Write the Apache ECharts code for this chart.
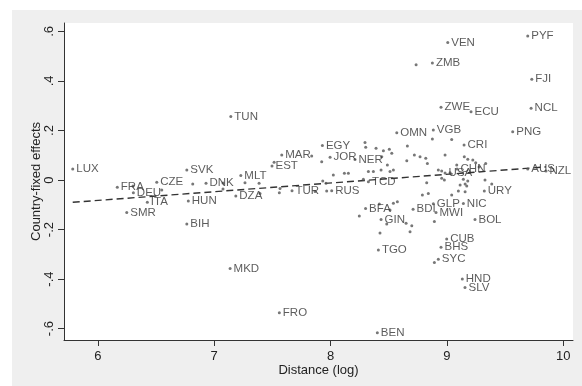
<!DOCTYPE html>
<html>
<head>
<meta charset="utf-8">
<script src="https://cdn.jsdelivr.net/npm/echarts@6/dist/echarts.min.js"></script>
<style>
  html, body { margin: 0; padding: 0; background: #fff; }
  #chart { position: absolute; left: 12px; top: 10px; width: 570px; height: 376px; background: #efefef; }
</style>
</head>
<body>
<div id="chart"></div>
<script>
// labelled countries
const names = ['LUX', 'FRA', 'DEU', 'CZE', 'ITA', 'SMR', 'SVK', 'DNK', 'HUN', 'BIH',
  'MLT', 'DZA', 'EST', 'MAR', 'TUR', 'TUN', 'MKD', 'FRO', 'EGY', 'JOR',
  'NER', 'RUS', 'TCD', 'OMN', 'VGB', 'CRI', 'VEN', 'ZMB', 'ZWE', 'ECU',
  'PYF', 'FJI', 'NCL', 'PNG', 'AUS', 'NZL', 'USA', 'CHN', 'URY', 'BFA',
  'GIN', 'TGO', 'BDI', 'GLP', 'MWI', 'NIC', 'BOL', 'CUB', 'BHS', 'SYC',
  'HND', 'SLV', 'BEN'];
const distance = [5.785, 6.168, 6.306, 6.507, 6.426, 6.249, 6.765, 6.930, 6.778, 6.765,
  7.229, 7.186, 7.497, 7.581, 7.669, 7.143, 7.137, 7.560, 7.930, 7.996,
  8.210, 8.010, 8.325, 8.569, 8.883, 9.147, 9.007, 8.875, 8.949, 9.207,
  9.694, 9.729, 9.723, 9.565, 9.694, 9.851, 8.984, 9.087, 9.321, 8.301,
  8.434, 8.411, 8.709, 8.883, 8.906, 9.141, 9.241, 8.998, 8.949, 8.926,
  9.132, 9.155, 8.402];
const effect = [0.044, -0.029, -0.051, -0.009, -0.090, -0.131, 0.040, -0.013, -0.085, -0.178,
  0.018, -0.065, 0.057, 0.101, -0.043, 0.256, -0.357, -0.536, 0.139, 0.092,
  0.083, -0.043, -0.007, 0.191, 0.202, 0.141, 0.555, 0.472, 0.294, 0.276,
  0.582, 0.407, 0.290, 0.195, 0.044, 0.036, 0.028, 0.044, -0.044, -0.115,
  -0.159, -0.283, -0.118, -0.096, -0.131, -0.095, -0.159, -0.238, -0.271, -0.320,
  -0.400, -0.434, -0.617];

// unlabelled countries
const otherDistance = [6.303, 6.550, 6.816, 7.076, 7.076, 7.265, 7.386, 7.394, 7.515, 7.566,
  7.560, 7.838, 7.924, 7.867, 7.967, 8.024, 8.119, 8.153, 7.933, 7.961,
  8.282, 8.296, 8.302, 8.391, 8.454, 8.505, 8.526, 8.440, 8.488, 8.325,
  8.368, 8.434, 8.511, 8.540, 8.660, 8.720, 8.769, 8.818, 8.655, 8.832,
  8.984, 9.149, 9.179, 9.222, 9.247, 9.333, 9.084, 8.926, 8.955, 9.027,
  8.955, 8.978, 9.141, 9.179, 9.327, 8.826, 9.113, 9.156, 9.156, 9.098,
  8.840, 8.789, 9.041, 9.385, 8.875, 9.041, 8.735, 8.247, 8.419, 8.540,
  8.574, 8.511, 8.483, 8.425, 8.649, 8.698, 8.683, 8.892, 8.892, 9.170,
  9.276];
const otherEffect = [-0.024, -0.040, -0.016, -0.012, -0.036, -0.011, -0.013, -0.054, 0.072, -0.034,
  -0.051, 0.097, 0.074, -0.046, -0.044, 0.020, 0.027, 0.027, -0.004, -0.013,
  0.003, 0.151, 0.132, 0.128, 0.118, 0.124, 0.108, 0.094, 0.061, 0.034,
  0.034, 0.040, 0.034, 0.040, 0.137, 0.101, 0.094, 0.088, 0.078, 0.067,
  0.101, 0.094, 0.084, 0.081, 0.070, 0.067, 0.061, 0.040, 0.036, 0.029,
  0.007, 0.000, 0.003, -0.004, 0.000, -0.011, -0.020, -0.016, -0.047, -0.044,
  -0.054, -0.061, -0.061, -0.016, 0.166, 0.164, 0.465, -0.145, -0.097, -0.094,
  -0.088, -0.121, -0.178, -0.214, -0.175, -0.185, -0.209, -0.168, -0.333, -0.024,
  0.053];

// linear fit end points
const fitDistance = [5.785, 9.851];
const fitEffect = [-0.090, 0.053];

const xTicks = [6, 7, 8, 9, 10];
const yTicks = [-0.6, -0.4, -0.2, 0, 0.2, 0.4, 0.6];

const font = 'Liberation Sans, Arial, sans-serif';

function stataNum(v) {
  if (v === 0) return '0';
  const s = String(Math.round(v * 10) / 10);
  return s.replace('0.', '.');
}

const chart = echarts.init(document.getElementById('chart'));
chart.setOption({
  animation: false,
  grid: {
    left: 52, right: 9, top: 13, bottom: 46,
    show: true, backgroundColor: '#fff', borderWidth: 0
  },
  xAxis: {
    type: 'value',
    min: 5.71, max: 10.083,
    name: 'Distance (log)',
    nameLocation: 'middle',
    nameGap: 24,
    nameMoveOverlap: false,
    nameTextStyle: { fontFamily: font, fontSize: 13, color: '#222' },
    axisLine: { show: true, onZero: false, lineStyle: { color: '#333', width: 1 } },
    axisTick: { show: true, length: 6, customValues: xTicks, lineStyle: { color: '#333' } },
    axisLabel: { customValues: xTicks, margin: 10, fontFamily: font, fontSize: 13, color: '#222' },
    splitLine: { show: false }
  },
  yAxis: {
    type: 'value',
    min: -0.646, max: 0.634,
    name: 'Country-fixed effects',
    nameLocation: 'middle',
    nameRotate: 90,
    nameGap: 21,
    nameMoveOverlap: false,
    nameTextStyle: { fontFamily: font, fontSize: 13, color: '#222' },
    axisLine: { show: true, onZero: false, lineStyle: { color: '#333', width: 1 } },
    axisTick: { show: true, length: 6, customValues: yTicks, lineStyle: { color: '#333' } },
    axisLabel: {
      customValues: yTicks, rotate: 90, margin: 8,
      fontFamily: font, fontSize: 13, color: '#222',
      formatter: stataNum
    },
    splitLine: { show: false }
  },
  series: [
    {
      type: 'line',
      data: fitDistance.map((d, i) => [d, fitEffect[i]]),
      symbol: 'none',
      lineStyle: { color: '#333', width: 1.4, type: [7, 4] },
      z: 1
    },
    {
      type: 'scatter',
      data: otherDistance.map((d, i) => [d, otherEffect[i]]),
      symbolSize: 3,
      itemStyle: { color: '#555' },
      z: 2
    },
    {
      type: 'scatter',
      data: names.map((n, i) => ({ name: n, value: [distance[i], effect[i]] })),
      symbolSize: 3,
      itemStyle: { color: '#555' },
      label: {
        show: true, position: 'right', distance: 2,
        formatter: '{b}', fontFamily: font, fontSize: 11.5, color: '#333'
      },
      z: 3
    }
  ]
});
</script>
</body>
</html>
